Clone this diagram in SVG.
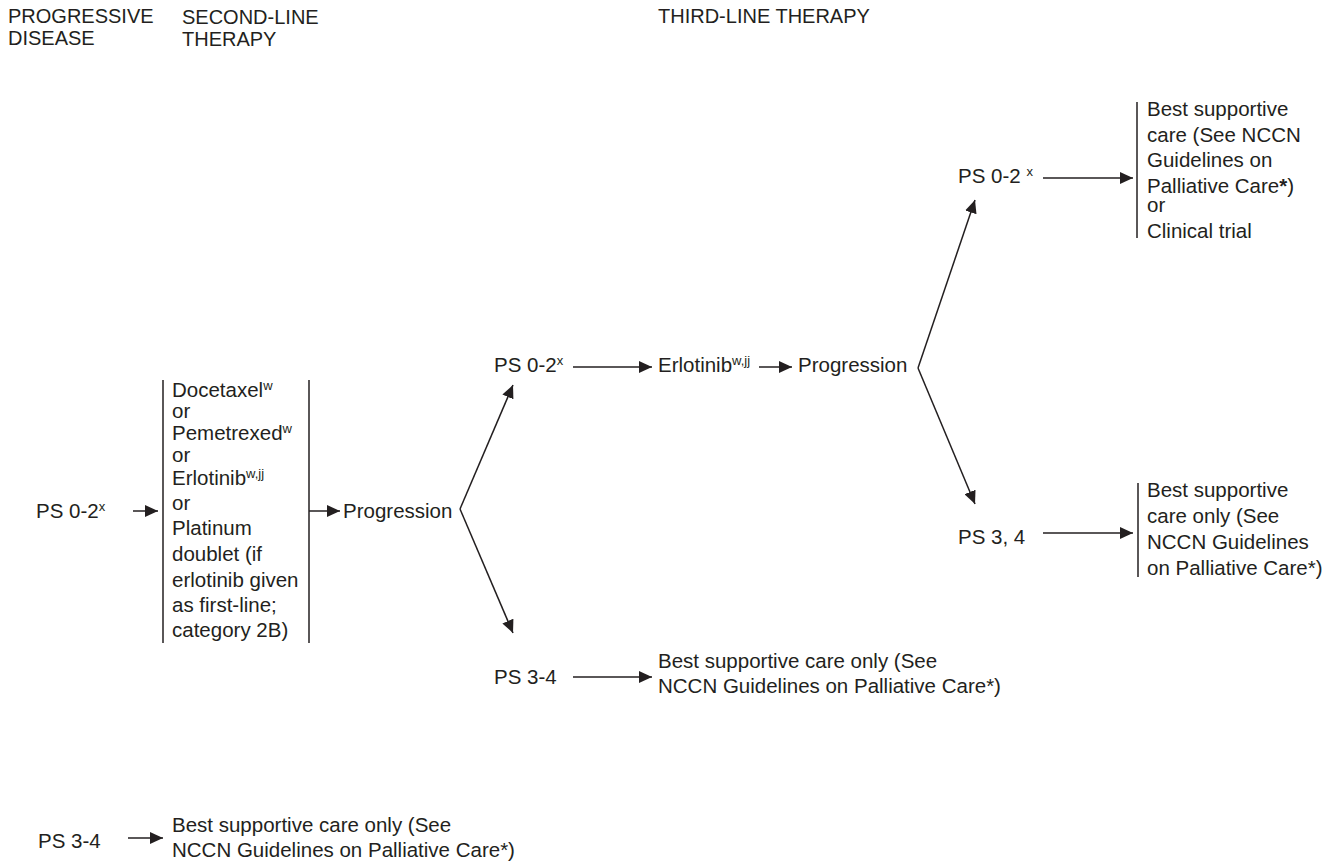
<svg xmlns="http://www.w3.org/2000/svg" width="1341" height="865" viewBox="0 0 1341 865">
<style>
text{font-family:"Liberation Sans",Arial,Helvetica,sans-serif;font-size:20.5px;fill:#231f20}
.hd{font-size:20px}
.sup{font-size:13px}
.ln{stroke:#231f20;stroke-width:1.5;fill:none}
.bar{stroke:#231f20;stroke-width:1.5}
.arr{stroke:#231f20;stroke-width:1.5;fill:none;marker-end:url(#ah)}
</style>
<defs>
<marker id="ah" markerUnits="userSpaceOnUse" markerWidth="14" markerHeight="12" refX="13" refY="6" orient="auto">
<path d="M0,0 L13,6 L0,12 z" fill="#231f20"/>
</marker>
</defs>
<rect width="1341" height="865" fill="#ffffff"/>
<g id="headers">
<text class="hd" x="8" y="23">PROGRESSIVE</text>
<text class="hd" x="8" y="45">DISEASE</text>
<text class="hd" x="182" y="24">SECOND-LINE</text>
<text class="hd" x="182" y="46">THERAPY</text>
<text class="hd" x="658" y="23">THIRD-LINE THERAPY</text>
</g>
<g id="connectors">
<line class="arr" x1="133" y1="511" x2="158" y2="511"/>
<line class="arr" x1="309" y1="511" x2="340" y2="511"/>
<line class="arr" x1="460" y1="509" x2="513" y2="385"/>
<line class="arr" x1="460" y1="509" x2="513" y2="633"/>
<line class="arr" x1="573" y1="367" x2="652" y2="367"/>
<line class="arr" x1="759" y1="367" x2="792" y2="367"/>
<line class="arr" x1="918" y1="368" x2="975" y2="200"/>
<line class="arr" x1="918" y1="368" x2="975" y2="504"/>
<line class="arr" x1="1043" y1="178" x2="1133" y2="178"/>
<line class="arr" x1="1043" y1="533" x2="1133" y2="533"/>
<line class="arr" x1="573" y1="677" x2="652" y2="677"/>
<line class="arr" x1="128" y1="838" x2="163" y2="838"/>
</g>
<g id="n-ps02-left">
<text x="36" y="518">PS 0-2<tspan class="sup" dy="-7">x</tspan></text>
</g>
<g id="n-second-line">
<line class="bar" x1="163" y1="380" x2="163" y2="643"/>
<line class="bar" x1="309" y1="380" x2="309" y2="643"/>
<text x="172" y="397">Docetaxel<tspan class="sup" dy="-7">w</tspan></text>
<text x="172" y="418">or</text>
<text x="172" y="440">Pemetrexed<tspan class="sup" dy="-7">w</tspan></text>
<text x="172" y="462">or</text>
<text x="172" y="485">Erlotinib<tspan class="sup" dy="-7">w,jj</tspan></text>
<text x="172" y="510">or</text>
<text x="172" y="535">Platinum</text>
<text x="172" y="561">doublet (if</text>
<text x="172" y="587">erlotinib given</text>
<text x="172" y="612">as first-line;</text>
<text x="172" y="637">category 2B)</text>
</g>
<g id="n-progression-1">
<text x="343" y="518">Progression</text>
</g>
<g id="n-ps02-mid">
<text x="494" y="372">PS 0-2<tspan class="sup" dy="-7">x</tspan></text>
</g>
<g id="n-erlotinib">
<text x="658" y="372">Erlotinib<tspan class="sup" dy="-7">w,jj</tspan></text>
</g>
<g id="n-progression-2">
<text x="798" y="372">Progression</text>
</g>
<g id="n-ps34-mid">
<text x="494" y="684">PS 3-4</text>
</g>
<g id="n-bsc-mid">
<text x="658" y="668">Best supportive care only (See</text>
<text x="658" y="693">NCCN Guidelines on Palliative Care*)</text>
</g>
<g id="n-ps02-top">
<text x="958" y="183">PS 0-2 <tspan class="sup" dy="-7">x</tspan></text>
</g>
<g id="n-bsc-top">
<line class="bar" x1="1137" y1="102" x2="1137" y2="238"/>
<text x="1147" y="116">Best supportive</text>
<text x="1147" y="142">care (See NCCN</text>
<text x="1147" y="167">Guidelines on</text>
<text x="1147" y="193">Palliative Care<tspan font-weight="bold">*</tspan>)</text>
<text x="1147" y="212">or</text>
<text x="1147" y="238">Clinical trial</text>
</g>
<g id="n-ps34-right">
<text x="958" y="544">PS 3, 4</text>
</g>
<g id="n-bsc-right">
<line class="bar" x1="1138" y1="483" x2="1138" y2="577"/>
<text x="1147" y="497">Best supportive</text>
<text x="1147" y="523">care only (See</text>
<text x="1147" y="549">NCCN Guidelines</text>
<text x="1147" y="575">on Palliative Care*)</text>
</g>
<g id="n-ps34-bottom">
<text x="38" y="848">PS 3-4</text>
</g>
<g id="n-bsc-bottom">
<text x="172" y="832">Best supportive care only (See</text>
<text x="172" y="857">NCCN Guidelines on Palliative Care*)</text>
</g>
</svg>
